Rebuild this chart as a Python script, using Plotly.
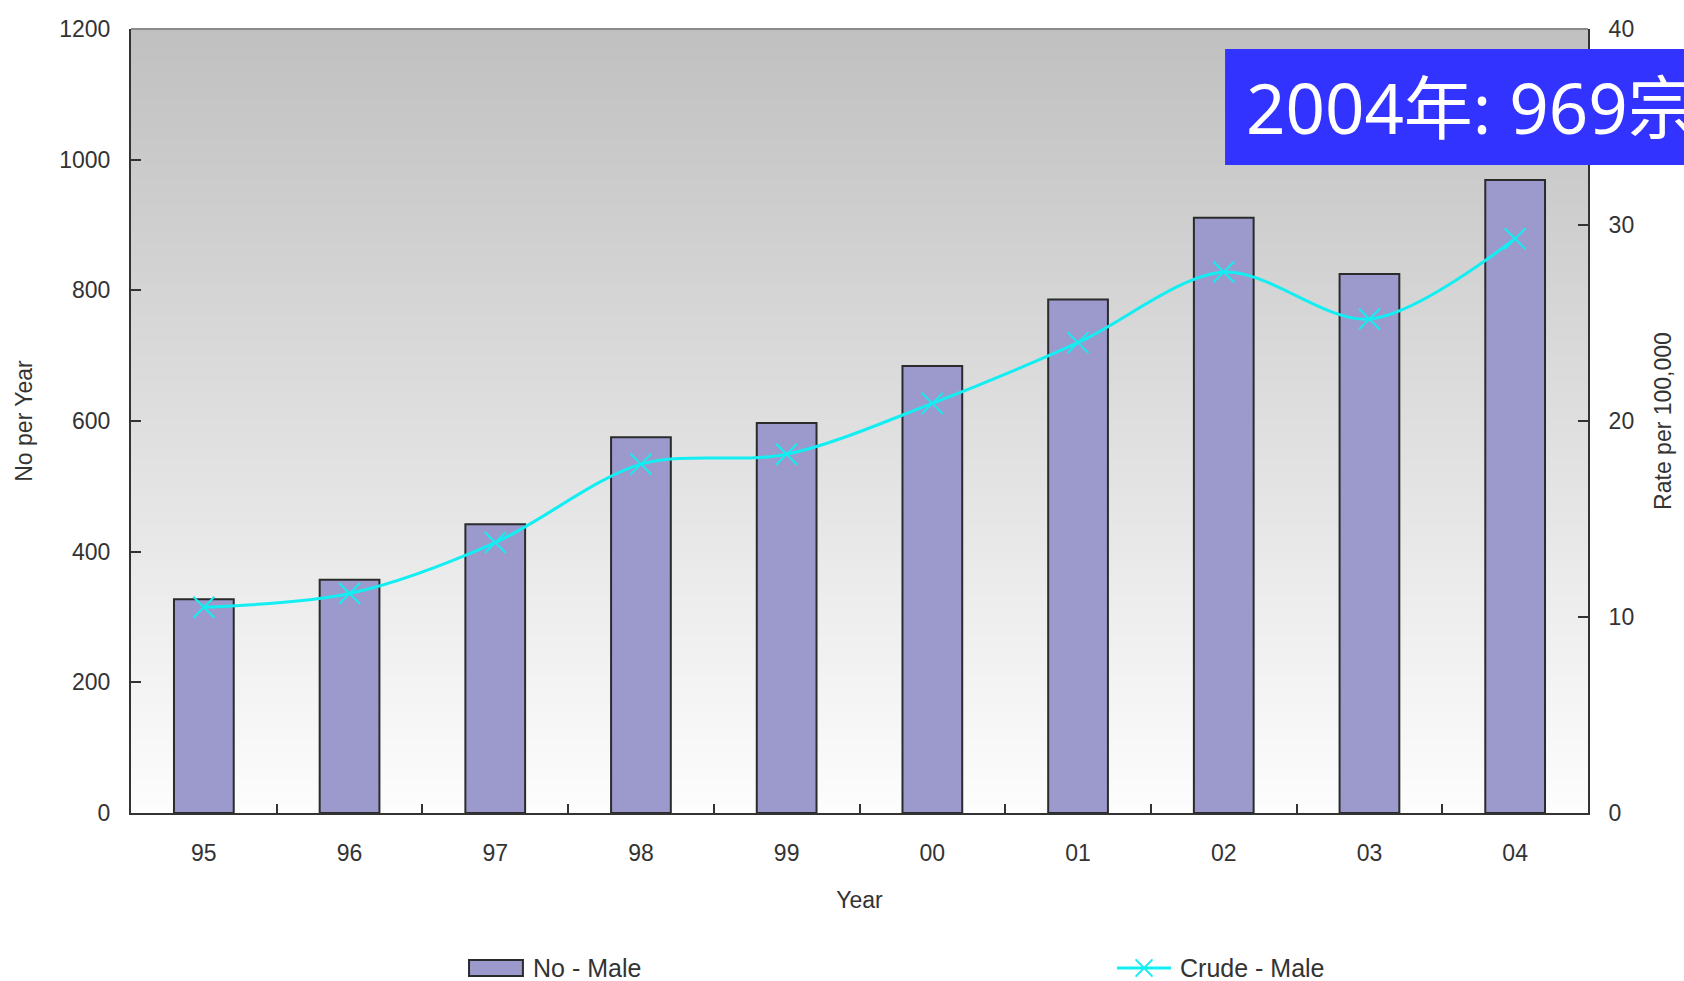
import plotly.graph_objects as go

# Yearly figures, 1995-2004
years = ["95", "96", "97", "98", "99", "00", "01", "02", "03", "04"]
no_male = [327, 357, 442, 575, 597, 684, 786, 911, 825, 969]
crude_male = [10.5, 11.2, 13.8, 17.8, 18.3, 20.9, 24.0, 27.6, 25.2, 29.3]

left_ticks = [0, 200, 400, 600, 800, 1000, 1200]
right_ticks = [0, 10, 20, 30, 40]

FONT = "Liberation Sans, Arial, sans-serif"
TXT = "#333333"
BAR_FILL = "#9c9acc"
BAR_EDGE = "#2b2b2b"
LINE_COL = "#12eef2"

fig = go.Figure()

fig.add_trace(go.Bar(
    x=years, y=no_male, name="No - Male", width=0.41, showlegend=False,
    marker=dict(color=BAR_FILL, line=dict(color=BAR_EDGE, width=2)),
    yaxis="y",
))
fig.add_trace(go.Scatter(
    x=years, y=crude_male, name="Crude - Male", mode="lines+markers", showlegend=False,
    line=dict(color=LINE_COL, width=3, shape="spline", smoothing=0.9),
    marker=dict(symbol="x-thin", size=21, line=dict(color=LINE_COL, width=2)),
    yaxis="y2",
))

# vertical grey-to-white gradient behind the plot area
shapes = []
n = 120
for i in range(n):
    t = i / (n - 1)
    v = int(round(192 + (253 - 192) * t))
    shapes.append(dict(
        type="rect", xref="x domain", yref="y domain", layer="below",
        x0=0, x1=1, y0=1 - (i + 1) / n, y1=1 - i / n + 0.001,
        fillcolor=f"rgb({v},{v},{v})", line=dict(width=0),
    ))
# top border of the frame
shapes.append(dict(type="line", xref="x domain", yref="y domain",
                   x0=0, x1=1, y0=1, y1=1, line=dict(color="#8a8a8a", width=2)))
# highlight box
shapes.append(dict(type="rect", xref="paper", yref="paper",
                   x0=0.7509, x1=1.12, y0=0.8265, y1=0.9745,
                   fillcolor="#3333ff", line=dict(width=0)))

# legend keys below the chart
ly = -0.1977
shapes.append(dict(type="rect", xref="paper", yref="paper",
                   x0=0.2320, x1=0.2690, y0=-0.1875, y1=-0.2079,
                   fillcolor=BAR_FILL, line=dict(color=BAR_EDGE, width=2)))
shapes.append(dict(type="line", xref="paper", yref="paper",
                   x0=0.6767, x1=0.7138, y0=ly, y1=ly,
                   line=dict(color=LINE_COL, width=3)))
mx, dx, dy = 0.6953, 0.0058, 0.011
shapes.append(dict(type="line", xref="paper", yref="paper",
                   x0=mx - dx, x1=mx + dx, y0=ly - dy, y1=ly + dy,
                   line=dict(color=LINE_COL, width=2)))
shapes.append(dict(type="line", xref="paper", yref="paper",
                   x0=mx - dx, x1=mx + dx, y0=ly + dy, y1=ly - dy,
                   line=dict(color=LINE_COL, width=2)))

legend_font = dict(family=FONT, size=25, color=TXT)
annotations = [
    dict(text="2004年: 969宗", xref="paper", yref="paper", x=0.7640, y=0.9005,
         xanchor="left", yanchor="middle", showarrow=False,
         font=dict(family="Noto Sans, Noto Sans CJK SC", size=69, color="white")),
    dict(text="No - Male", xref="paper", yref="paper", x=0.2745, y=ly,
         xanchor="left", yanchor="middle", showarrow=False, font=legend_font),
    dict(text="Crude - Male", xref="paper", yref="paper", x=0.7186, y=ly,
         xanchor="left", yanchor="middle", showarrow=False, font=legend_font),
]

fig.update_layout(
    width=1684, height=981,
    margin=dict(l=131, r=96, t=29, b=168, autoexpand=False),
    paper_bgcolor="white", plot_bgcolor="white",
    font=dict(family=FONT, size=22, color=TXT),
    shapes=shapes,
    annotations=annotations,
    showlegend=False,
    xaxis=dict(
        type="category", range=[-0.5, 9.5], tickson="boundaries", automargin=False,
        ticks="inside", ticklen=9, tickcolor="#333", tickwidth=2,
        showline=True, linecolor="#333", linewidth=2, showgrid=False,
        tickfont=dict(family=FONT, size=23, color=TXT), ticklabelstandoff=18,
        title=dict(text="Year", font=dict(family=FONT, size=23, color=TXT), standoff=27),
    ),
    yaxis=dict(
        range=[0, 1200], tickvals=left_ticks, ticks="inside", ticklen=10, automargin=False,
        tickcolor="#333", tickwidth=2, showline=True, linecolor="#333", linewidth=2,
        showgrid=False, zeroline=False, ticklabelstandoff=14,
        tickfont=dict(family=FONT, size=23, color=TXT),
        title=dict(text="No per Year", font=dict(family=FONT, size=23, color=TXT), standoff=20),
    ),
    yaxis2=dict(
        range=[0, 40], tickvals=right_ticks, overlaying="y", side="right", automargin=False,
        ticks="inside", ticklen=10, tickcolor="#333", tickwidth=2,
        showline=True, linecolor="#333", linewidth=2, showgrid=False, zeroline=False,
        ticklabelstandoff=14, tickfont=dict(family=FONT, size=23, color=TXT),
        title=dict(text="Rate per 100,000", font=dict(family=FONT, size=23, color=TXT), standoff=22),
    ),
)

fig.write_html("out.html")
